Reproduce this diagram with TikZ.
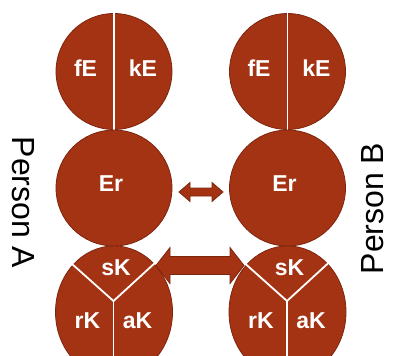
\documentclass[tikz,border=0pt]{standalone}
\usepackage{fontspec}
\setmainfont{Liberation Sans}
\usetikzlibrary{shapes.geometric}
\definecolor{rust}{RGB}{164,51,19}
\definecolor{rustdark}{RGB}{125,38,15}
\begin{document}
\begin{tikzpicture}[x=1pt,y=-1pt,
  ball/.style={circle, draw=rustdark, fill=rust, line width=0.8pt, minimum size=116pt, inner sep=0pt},
  base/.style={ellipse, draw=rustdark, fill=rust, line width=0.8pt, minimum width=117pt, minimum height=132pt, inner sep=0pt},
  split/.style={white, line width=1.8pt},
  lbl/.style={text=white, font=\fontsize{23}{23}\selectfont\bfseries, inner sep=0pt},
  person/.style={font=\fontsize{32}{32}\selectfont, inner sep=0pt},
  dbl/.style={fill=rust, draw=rustdark, line width=0.8pt, line join=miter}]
\useasboundingbox (0,0) rectangle (394,356);
\clip (0,0) rectangle (394,356);
\foreach \x/\s in {114/A, 287.5/B}{
  % top circle
  \node[ball] (top\s) at (\x,71.5) {};
  \draw[split] (top\s.north) -- (top\s.south);
  \node[lbl] (fE\s) at (\x-28.5,68.5) {fE};
  \node[lbl] (kE\s) at (\x+29,68.5) {kE};
  % middle circle
  \node[ball] (er\s) at (\x,188) {};
  \node[lbl] (erl\s) at (\x-3,184) {Er};
  % bottom circle
  \node[base] (base\s) at (\x,312) {};
  \coordinate (y\s) at (\x-0.5,301);
  \coordinate (yl\s) at (\x-42.5,263.5);
  \coordinate (yr\s) at (\x+42,262);
  \coordinate (yb\s) at (\x-0.5,360);
  \draw[split] (yl\s) -- (y\s) -- (yr\s);
  \draw[split] (y\s) -- (yb\s);
  \node[lbl] (sK\s) at (\x+2,267.5) {sK};
  \node[lbl] (rK\s) at (\x-26.5,321) {rK};
  \node[lbl] (aK\s) at (\x+23.5,321) {aK};
}
% arrows
\coordinate (m1) at (201,192);
\begin{scope}[shift={(m1)}]
  \draw[dbl] (-22,0) -- (-11,-9.5) -- (-11,-4) -- (11,-4) -- (11,-9.5) -- (22,0)
    -- (11,9.5) -- (11,4) -- (-11,4) -- (-11,9.5) -- cycle;
\end{scope}
\coordinate (m2) at (200,265.5);
\begin{scope}[shift={(m2)}]
  \draw[dbl] (-44,0) -- (-30,-18) -- (-30,-9) -- (30,-9) -- (30,-18) -- (44,0)
    -- (30,18) -- (30,9) -- (-30,9) -- (-30,18) -- cycle;
\end{scope}
% person labels
\node[person, rotate=-90] (pa) at (23.5,202.5) {Person A};
\node[person, rotate=90] (pb) at (372.5,208.5) {Person B};
\end{tikzpicture}
\end{document}
